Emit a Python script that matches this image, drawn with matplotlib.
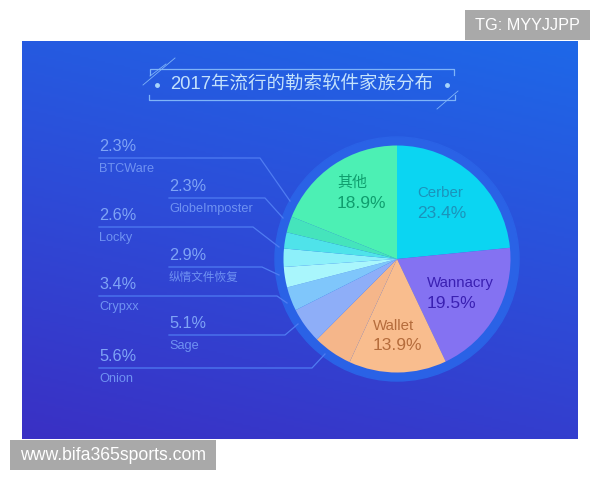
import matplotlib
matplotlib.use('Agg')
import matplotlib.pyplot as plt
import numpy as np
from matplotlib.colors import LinearSegmentedColormap
from matplotlib.patches import Circle, Rectangle

plt.rcParams['font.family'] = ['Liberation Sans', 'Noto Sans CJK SC', 'DejaVu Sans']

families = ['Cerber', 'Wannacry', 'Wallet', 'Onion', 'Sage', 'Crypxx',
            '纵情文件恢复', 'Locky', 'GlobeImposter', 'BTCWare', '其他']
shares = [23.4, 19.5, 13.9, 5.6, 5.1, 3.4, 2.9, 2.6, 2.3, 2.3, 18.9]
slice_colors = ['#0bd5f2', '#8472f2', '#f9bd8e', '#f5b68a', '#8eaef8', '#7fc6fb',
                '#a9f6fc', '#8df0fa', '#4fe3ea', '#45e4bc', '#4cf0b4']
title = '2017年流行的勒索软件家族分布'


def Y(y):
    # picture pixels count from the top
    return 480 - y


fig = plt.figure(figsize=(6, 4.8), dpi=100)
ax = fig.add_axes([0, 0, 1, 1])

# background panel, lighter at the top right
cmap = LinearSegmentedColormap.from_list('panel', ['#3a30c4', '#2d4cd8', '#1e68e8'])
gx, gy = np.meshgrid(np.linspace(0, 1, 200), np.linspace(0, 1, 200))
ax.imshow(0.25 * gx + 0.75 * gy, origin='lower', cmap=cmap, aspect='auto',
          extent=(22, 578, Y(439), Y(41)), zorder=0)

# pie with its ring
ax.add_patch(Circle((397, Y(259)), 122, color='#2a62e6', zorder=1))
ax.pie(shares, colors=slice_colors, startangle=90, counterclock=False,
       center=(397, Y(259)), radius=113.5, wedgeprops={'zorder': 2, 'linewidth': 0})

ax.set_xlim(0, 600)
ax.set_ylim(0, 480)
ax.set_aspect('auto')
ax.axis('off')

# title frame
frame_color = '#7fb4f8'
ax.plot([150, 150, 454, 454], [Y(75), Y(69), Y(69), Y(75)], color=frame_color, lw=0.9)
ax.plot([149, 149, 455, 455], [Y(95), Y(100), Y(100), Y(95)], color=frame_color, lw=0.9)
ax.plot([143, 175], [Y(85), Y(58)], color=frame_color, lw=0.6)
ax.plot([150, 166], [Y(76), Y(64)], color=frame_color, lw=0.6)
ax.plot([437, 458], [Y(109), Y(91)], color=frame_color, lw=0.6)
ax.plot([157, 447], [Y(85), Y(85)], ls='none', marker='o', ms=2.5, color='#a8d4fb')
ax.text(302, Y(85), title, color='#c4e2fc', fontsize=13.3, ha='center', va='center')

# outside labels: value above the line, name below
line_color = '#4f7cf2'
value_color = '#7fa4f6'
name_color = '#6f92f2'
leaders = {
    'BTCWare': [(99, 158), (260, 158), (290, 201)],
    'GlobeImposter': [(169, 198), (265, 198), (283, 218)],
    'Locky': [(99, 227), (253, 227), (279, 247)],
    '纵情文件恢复': [(169, 267), (262, 267), (279, 275)],
    'Crypxx': [(99, 296), (277, 296), (287, 303)],
    'Sage': [(169, 335), (285, 335), (298, 324)],
    'Onion': [(99, 368), (312, 368), (325, 354)],
}
for name, pts in leaders.items():
    xs = [p[0] for p in pts]
    ys = [Y(p[1]) for p in pts]
    ax.plot(xs, ys, color=line_color, lw=0.9, zorder=1.5)
    share = shares[families.index(name)]
    ax.text(xs[0], ys[0] + 4, '%.1f%%' % share, color=value_color, fontsize=11.7,
            ha='left', va='bottom')
    name_size = 8.4 if name == '纵情文件恢复' else 9.2
    ax.text(xs[0], ys[0] - 11, name, color=name_color, fontsize=name_size,
            ha='left', va='center')

# labels on the pie
inside = [('Cerber', 417, 193, '#1b93bb'), ('Wannacry', 427, 283, '#3a20b2'),
          ('Wallet', 373, 326, '#b56c3c'), ('其他', 337, 183, '#0f9e6e')]
for name, x, y, col in inside:
    ax.text(x, Y(y), name, color=col, fontsize=10.8, ha='left', va='center', zorder=3)
    ax.text(x, Y(y + 20), '%.1f%%' % shares[families.index(name)], color=col,
            fontsize=12.5, ha='left', va='center', zorder=3)

# watermarks
ax.add_patch(Rectangle((465, Y(40)), 125, 30, color='#a9a9a9', lw=0, zorder=4))
ax.text(527, Y(25), 'TG: MYYJJPP', color='white', fontsize=11.7, ha='center',
        va='center', zorder=5)
ax.add_patch(Rectangle((10, Y(470)), 206, 30, color='#a9a9a9', lw=0, zorder=4))
ax.text(113, Y(455), 'www.bifa365sports.com', color='white', fontsize=12.7,
        ha='center', va='center', zorder=5)

fig.savefig('out.png', dpi=100)
